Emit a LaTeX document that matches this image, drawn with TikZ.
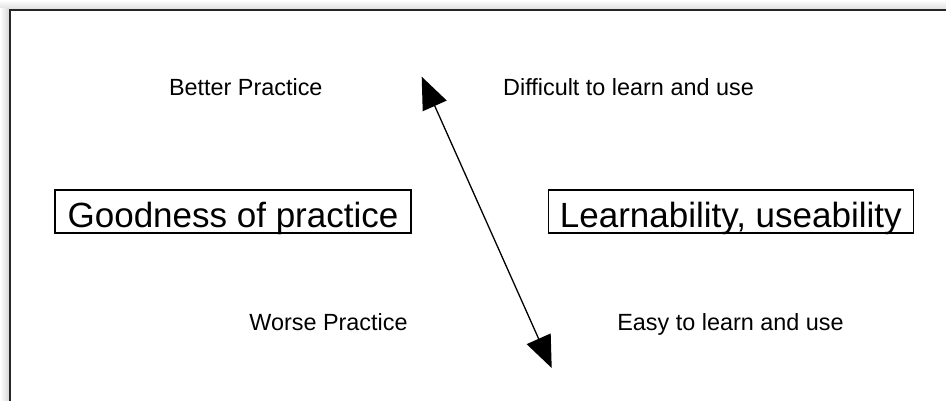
\documentclass[tikz,border=0pt]{standalone}
\usepackage{fontspec}
\setmainfont{Liberation Sans}
\usetikzlibrary{arrows.meta}

\begin{document}
\begin{tikzpicture}[x=1pt, y=-1pt,
    hint/.style={font=\fontsize{23.4}{28}\selectfont, inner sep=0pt, anchor=base},
    axisbox/.style={draw, line width=1.2pt, font=\fontsize{35}{40}\selectfont, inner sep=0pt, text height=37pt, text depth=6pt},
    bothway/.style={line width=1.3pt, {Triangle[length=32pt,width=26pt]}-{Triangle[length=32pt,width=26pt]}}]

    \useasboundingbox (0,0) rectangle (946,401); %Page size

    %Window edge and shadow
    \shade[top color=white, bottom color=gray!25] (0,0) rectangle (946,9); %Top shadow
    \shade[left color=white, right color=gray!30] (0,9) rectangle (9,401); %Left shadow
    \draw[line width=2pt, black!85] (10,401) -- (10,10) -- (946,10); %Edge lines

    %Two axes
    \node[axisbox, minimum width=356pt] (goodness) at (233,211.5) {Goodness of practice}; %Left box
    \node[axisbox, minimum width=365pt] (learnability) at (730.8,211.5) {Learnability, useability}; %Right box

    %Ends of the scale
    \node[hint] (better) at (245.8,96) {Better Practice}; %Top left
    \node[hint] (difficult) at (628.5,96) {Difficult to learn and use}; %Top right
    \node[hint] (worse) at (328.5,330) {Worse Practice}; %Bottom left
    \node[hint] (easy) at (730.5,330) {Easy to learn and use}; %Bottom right

    %Double arrow
    \coordinate (high) at (421.7,76.7);
    \coordinate (low) at (551.7,368);
    \draw[bothway] (high) -- (low);

\end{tikzpicture}
\end{document}
